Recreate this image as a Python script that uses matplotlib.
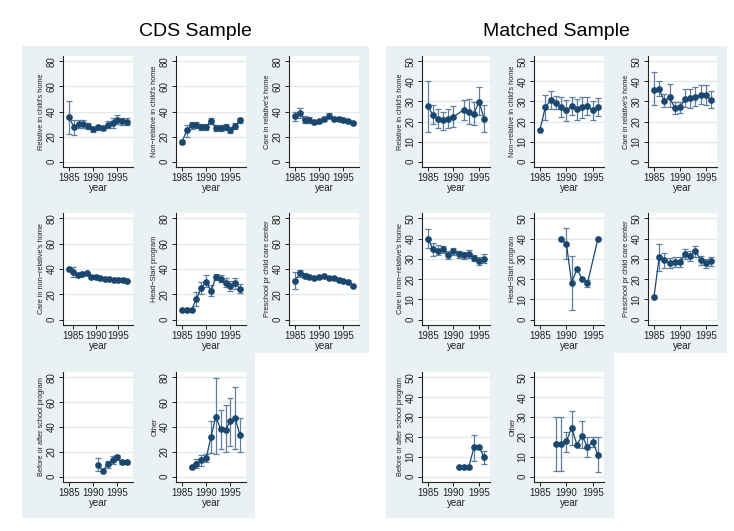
import numpy as np
import matplotlib
matplotlib.use("Agg")
import matplotlib.pyplot as plt
from matplotlib.patches import Rectangle

nan = np.nan

# ---------------- CDS sample ----------------
cds_rel_home_years = list(range(1985, 1998))
cds_rel_home = [35.6, 27.6, 29.7, 30.2, 28.6, 26.0, 27.6, 26.8, 29.4, 30.8, 33.4, 32.1, 31.8]
cds_rel_home_lo = [22.2, 21.4, 26.5, 27.2, 26.0, 24.0, 25.5, 25.0, 26.8, 26.8, 30.0, 29.0, 29.0]
cds_rel_home_hi = [48.4, 33.4, 33.0, 33.0, 31.0, 28.0, 29.5, 28.8, 32.5, 35.0, 37.2, 35.2, 34.8]

cds_nonrel_home_years = list(range(1985, 1998))
cds_nonrel_home = [16.0, 24.9, 28.9, 29.2, 27.6, 27.6, 32.6, 26.8, 26.8, 27.6, 25.4, 28.6, 32.9]
cds_nonrel_home_lo = [14.5, 20.0, 26.0, 26.5, 25.5, 25.5, 30.0, 24.5, 24.5, 25.0, 23.0, 26.0, 31.0]
cds_nonrel_home_hi = [17.5, 29.5, 32.0, 31.8, 30.0, 30.0, 35.0, 29.5, 29.5, 30.0, 28.0, 31.0, 35.0]

cds_rel_care_years = list(range(1985, 1998))
cds_rel_care = [36.1, 38.8, 33.4, 33.2, 31.3, 32.1, 34.0, 36.4, 34.2, 34.2, 33.4, 32.1, 30.8]
cds_rel_care_lo = [32.5, 35.0, 30.5, 31.0, 30.0, 31.0, 32.5, 34.5, 32.5, 33.0, 32.0, 31.0, 29.8]
cds_rel_care_hi = [40.0, 43.0, 36.5, 35.5, 32.8, 33.3, 35.8, 38.5, 36.0, 35.5, 34.8, 33.3, 31.8]

cds_nonrel_care_years = list(range(1984, 1998))
cds_nonrel_care = [40.0, 37.5, 35.5, 36.0, 37.0, 34.0, 34.0, 32.5, 32.0, 32.0, 31.5, 31.5, 31.5, 30.5]
cds_nonrel_care_lo = [39.0, 33.5, 34.0, 34.5, 36.0, 33.0, 33.0, 31.5, 31.0, 31.0, 30.5, 30.5, 30.5, 29.5]
cds_nonrel_care_hi = [41.0, 41.5, 37.0, 37.5, 38.0, 35.0, 35.0, 33.5, 33.0, 33.0, 32.5, 32.5, 32.5, 31.5]

cds_head_years = list(range(1985, 1998))
cds_head = [8.0, 8.0, 8.0, 16.6, 25.1, 30.0, 22.5, 33.4, 32.1, 29.2, 26.5, 28.6, 24.6]
cds_head_lo = [nan, nan, nan, 11.0, 20.6, 26.0, 18.5, 31.0, 29.5, 25.5, 23.0, 24.5, 21.0]
cds_head_hi = [nan, nan, nan, 22.0, 30.0, 35.0, 27.5, 36.0, 35.0, 33.0, 30.5, 33.0, 28.0]

cds_pre_years = list(range(1985, 1998))
cds_pre = [30.8, 36.7, 34.8, 33.9, 33.2, 33.6, 34.5, 33.0, 33.0, 31.6, 30.4, 30.0, 26.8]
cds_pre_lo = [24.0, 33.5, 33.0, 32.5, 32.0, 32.5, 33.5, 32.0, 32.0, 30.5, 29.5, 29.0, 26.0]
cds_pre_hi = [37.5, 39.5, 36.5, 35.3, 34.4, 34.7, 35.5, 34.0, 34.0, 32.7, 31.3, 31.0, 27.6]

cds_school_years = list(range(1991, 1998))
cds_school = [9.6, 4.8, 10.0, 13.3, 15.5, 11.5, 11.5]
cds_school_lo = [4.5, nan, 7.0, 10.0, 13.5, 10.0, 10.0]
cds_school_hi = [15.0, nan, 13.0, 17.0, 17.5, 13.0, 13.0]

cds_other_years = list(range(1987, 1998))
cds_other = [8.0, 10.1, 13.3, 15.0, 32.0, 48.3, 38.1, 37.6, 44.8, 47.0, 33.4]
cds_other_lo = [7.0, 7.0, 9.0, 12.0, 19.0, 18.5, 22.5, 19.5, 25.0, 22.5, 20.0]
cds_other_hi = [9.0, 14.0, 17.5, 18.5, 45.0, 79.0, 53.5, 57.3, 63.0, 72.5, 47.5]

# ---------------- Matched sample ----------------
m_rel_home_years = [1985, 1986, 1987, 1988, 1989, 1990, 1992, 1993, 1994, 1995, 1996]
m_rel_home = [27.6, 23.3, 21.5, 20.6, 21.4, 22.3, 25.9, 24.9, 23.9, 29.9, 21.3]
m_rel_home_lo = [15.0, 19.0, 17.0, 16.0, 17.0, 17.5, 21.0, 19.0, 18.5, 23.5, 15.0]
m_rel_home_hi = [40.0, 28.0, 26.0, 25.0, 26.0, 27.5, 30.5, 31.0, 29.5, 37.0, 28.0]

m_nonrel_home_years = list(range(1985, 1997))
m_nonrel_home = [16.0, 27.0, 30.6, 29.2, 27.3, 25.5, 27.8, 26.0, 27.0, 27.8, 25.5, 27.0]
m_nonrel_home_lo = [nan, 21.0, 26.0, 26.0, 22.5, 20.5, 23.5, 21.0, 22.0, 23.5, 21.0, 23.0]
m_nonrel_home_hi = [nan, 33.0, 35.0, 32.5, 32.0, 30.5, 32.0, 31.0, 32.0, 32.0, 30.0, 31.5]

m_rel_care_years = list(range(1985, 1997))
m_rel_care = [35.9, 36.2, 30.2, 32.2, 26.7, 27.0, 31.2, 31.5, 32.0, 33.0, 33.0, 30.5]
m_rel_care_lo = [28.0, 32.5, 27.0, 27.0, 24.0, 24.5, 27.0, 26.5, 27.5, 28.5, 28.0, 26.5]
m_rel_care_hi = [44.5, 40.0, 33.5, 38.5, 29.5, 29.5, 36.0, 36.0, 37.0, 38.0, 38.0, 35.0]

m_nonrel_care_years = list(range(1985, 1997))
m_nonrel_care = [40.0, 34.7, 34.0, 34.8, 32.0, 33.7, 32.3, 31.7, 32.5, 30.3, 29.0, 30.0]
m_nonrel_care_lo = [35.5, 31.5, 32.0, 33.0, 30.0, 32.0, 30.5, 30.0, 30.5, 29.0, 27.0, 28.0]
m_nonrel_care_hi = [44.5, 38.0, 37.0, 36.5, 34.0, 35.5, 34.0, 33.5, 34.5, 32.0, 31.0, 32.5]

m_head_years = [1989, 1990, 1991, 1992, 1993, 1994, 1996]
m_head = [40.0, 37.5, 18.2, 25.0, 20.0, 18.0, 40.0]
m_head_lo = [nan, 30.0, 5.0, nan, nan, 16.0, nan]
m_head_hi = [nan, 45.0, 31.5, nan, nan, 19.5, nan]

m_pre_years = list(range(1985, 1997))
m_pre = [11.0, 30.7, 29.5, 28.0, 28.5, 28.5, 32.5, 31.5, 33.7, 29.5, 28.0, 28.8]
m_pre_lo = [nan, 24.0, 25.5, 25.5, 26.0, 26.0, 30.0, 29.0, 31.0, 27.0, 25.5, 26.5]
m_pre_hi = [nan, 37.5, 33.0, 30.5, 31.0, 31.0, 35.0, 34.0, 36.5, 31.5, 30.0, 31.0]

m_school_years = list(range(1991, 1997))
m_school = [5.0, 5.0, 5.0, 14.7, 15.0, 9.7]
m_school_lo = [nan, nan, nan, 8.0, nan, 6.5]
m_school_hi = [nan, nan, nan, 21.0, nan, 13.0]

m_other_years = list(range(1988, 1997))
m_other = [16.5, 16.5, 17.8, 24.5, 16.2, 20.5, 15.0, 17.5, 11.0]
m_other_lo = [3.0, 3.0, 12.5, 16.0, nan, 14.5, 10.0, 15.0, 2.5]
m_other_hi = [30.0, 30.0, 22.5, 33.0, nan, 28.0, 20.0, 20.0, 20.0]

panel_labels = ["Relative in child's home", "Non\u2212relative in child's home", "Care in relative's home",
                "Care in non\u2212relative's home", "Head\u2212Start program", "Preschool pr child care center",
                "Before or after school program", "Other"]

cds_panels = [
    (cds_rel_home_years, cds_rel_home, cds_rel_home_lo, cds_rel_home_hi),
    (cds_nonrel_home_years, cds_nonrel_home, cds_nonrel_home_lo, cds_nonrel_home_hi),
    (cds_rel_care_years, cds_rel_care, cds_rel_care_lo, cds_rel_care_hi),
    (cds_nonrel_care_years, cds_nonrel_care, cds_nonrel_care_lo, cds_nonrel_care_hi),
    (cds_head_years, cds_head, cds_head_lo, cds_head_hi),
    (cds_pre_years, cds_pre, cds_pre_lo, cds_pre_hi),
    (cds_school_years, cds_school, cds_school_lo, cds_school_hi),
    (cds_other_years, cds_other, cds_other_lo, cds_other_hi),
]
m_panels = [
    (m_rel_home_years, m_rel_home, m_rel_home_lo, m_rel_home_hi),
    (m_nonrel_home_years, m_nonrel_home, m_nonrel_home_lo, m_nonrel_home_hi),
    (m_rel_care_years, m_rel_care, m_rel_care_lo, m_rel_care_hi),
    (m_nonrel_care_years, m_nonrel_care, m_nonrel_care_lo, m_nonrel_care_hi),
    (m_head_years, m_head, m_head_lo, m_head_hi),
    (m_pre_years, m_pre, m_pre_lo, m_pre_hi),
    (m_school_years, m_school, m_school_lo, m_school_hi),
    (m_other_years, m_other, m_other_lo, m_other_hi),
]

# ---------------- style ----------------
W, H = 734, 531
BG = "#eaf1f3"
GRID = "#e1eaed"
NAVY = "#1a476f"
ERR = "#5f7f9c"
plt.rcParams["font.family"] = "Liberation Sans"

fig = plt.figure(figsize=(W / 100, H / 100), dpi=100)
fig.patch.set_facecolor("white")


def px_rect(x0, y0, x1, y1, color):
    fig.patches.append(Rectangle((x0 / W, 1 - y1 / H), (x1 - x0) / W, (y1 - y0) / H,
                                 transform=fig.transFigure, facecolor=color,
                                 edgecolor="none", zorder=-5))


# light regions behind each group of small graphs
px_rect(22, 46, 369, 353, BG)
px_rect(22, 353, 255, 518, BG)
px_rect(386, 46, 727, 353, BG)
px_rect(386, 353, 614, 518, BG)

rows = [(56, 167), (213, 325), (372, 482)]
cds_cols = [(63, 133), (176, 246), (289, 359)]
m_cols = [(422, 490), (534, 604), (648, 717)]


def panel(x0, x1, y0, y1, data, label, ymax, ystep):
    years, vals, lo, hi = [np.asarray(a, dtype=float) for a in data]
    ax = fig.add_axes([x0 / W, 1 - y1 / H, (x1 - x0) / W, (y1 - y0) / H])
    ax.set_facecolor("white")
    ok = ~np.isnan(lo)
    ax.errorbar(years[ok], vals[ok], yerr=[vals[ok] - lo[ok], hi[ok] - vals[ok]],
                fmt="none", ecolor=ERR, elinewidth=0.9, capsize=1.9, capthick=0.9, zorder=2)
    ax.plot(years, vals, color=NAVY, lw=0.9, marker="o", ms=3.8, mfc=NAVY, mec=NAVY, zorder=3)
    xa = min(years.min(), 1985)
    xb = max(years.max(), 1995)
    xp = 0.1034 * (xb - xa)
    ax.set_xlim(xa - xp, xb + xp)
    yp = 0.0528 * ymax
    ax.set_ylim(-yp, ymax + yp)
    yt = np.arange(0, ymax + 0.1, ystep)
    ax.set_yticks(yt)
    ax.set_yticklabels([f"{int(v)}" for v in yt], rotation=90, va="center", fontsize=7)
    ax.set_xticks([1985, 1990, 1995])
    ax.set_xticklabels(["1985", "1990", "1995"], fontsize=7)
    for v in yt:
        ax.axhline(v, color=GRID, lw=1.0, zorder=1)
    for s in ["top", "right"]:
        ax.spines[s].set_visible(False)
    for s in ["left", "bottom"]:
        ax.spines[s].set_color("#222222")
        ax.spines[s].set_linewidth(0.8)
    ax.tick_params(direction="out", length=3, width=0.7, color="#222222", pad=1.5,
                   labelcolor="#222222")
    ax.set_xlabel("year", fontsize=7, labelpad=0, color="#222222")
    ax.set_ylabel(label, fontsize=5.3, labelpad=1, color="#222222")
    return ax


for i, (d, lab) in enumerate(zip(cds_panels, panel_labels)):
    r, c = divmod(i, 3)
    panel(cds_cols[c][0], cds_cols[c][1], rows[r][0], rows[r][1], d, lab, 80, 20)
for i, (d, lab) in enumerate(zip(m_panels, panel_labels)):
    r, c = divmod(i, 3)
    panel(m_cols[c][0], m_cols[c][1], rows[r][0], rows[r][1], d, lab, 50, 10)

fig.text(195 / W, 1 - 32 / H, "CDS Sample", ha="center", va="center", fontsize=14, color="black")
fig.text(556 / W, 1 - 32 / H, "Matched Sample", ha="center", va="center", fontsize=14, color="black")

fig.savefig("out.png", dpi=100)
